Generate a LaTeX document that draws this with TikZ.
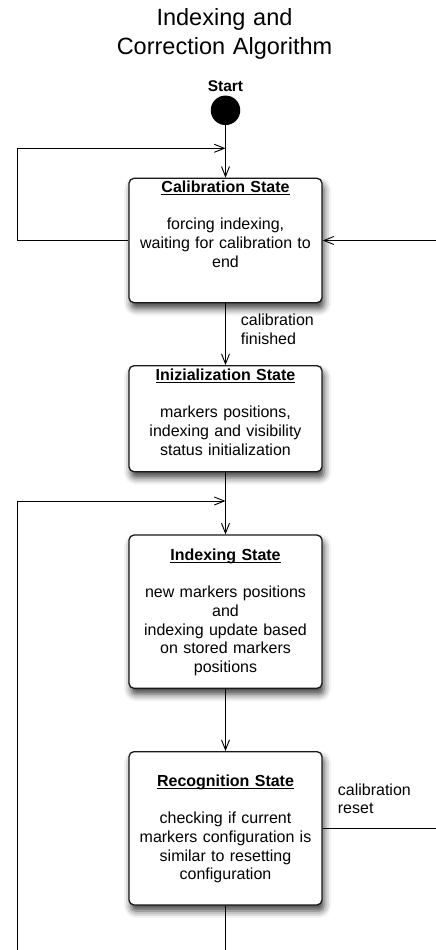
\documentclass[tikz,border=0pt]{standalone}
\usepackage{fontspec}
\setmainfont{Liberation Sans}
\usetikzlibrary{arrows.meta,shadows.blur}
\newcommand{\stateul}[1]{\leavevmode\setbox0\hbox{#1}\rlap{\copy0}\rule[-2.6pt]{\wd0}{0.9pt}}
\tikzset{
  box/.style={draw=black!90, line width=1.3pt, rounded corners=5pt, fill=white,
    minimum width=193pt, inner sep=0pt,
    blur shadow={shadow xshift=2pt, shadow yshift=-6pt, shadow blur radius=7pt, shadow opacity=75}},
  boxtext/.style={text width=192pt, align=center, inner sep=0pt, anchor=base,
    font=\fontsize{16}{18.7}\selectfont},
  lbl/.style={text width=90pt, align=left, inner sep=0pt, anchor=base west,
    font=\fontsize{16}{18.4}\selectfont},
  conn/.style={line width=0.9pt},
  arr/.style={conn, -{Straight Barb[length=10pt,width=8pt,line width=0.9pt]}}
}
\begin{document}
\begin{tikzpicture}[x=1pt,y=-1pt]
\useasboundingbox (0,0) rectangle (436,950);

\node[text width=300pt, align=center, inner sep=0pt, anchor=base,
  font=\fontsize{23.5}{29}\selectfont] (title) at (224.5,26) {Indexing and\\Correction Algorithm};

\node[anchor=base, inner sep=0pt, font=\fontsize{15.5}{18}\selectfont\bfseries] (startlbl) at (225.5,91.7) {Start};
\node[circle, fill=black, minimum size=29.5pt, inner sep=0pt] (start) at (225.5,110.3) {};

% boxes
\node[box, minimum height=124.4pt] (calib) at (225.5,240.5) {};
\node[box, minimum height=106pt] (init) at (225.5,418.7) {};
\node[box, minimum height=153.3pt] (idx) at (225.5,611.7) {};
\node[box, minimum height=153.3pt] (rec) at (225.5,828.3) {};

% box texts
\node[boxtext] (calibT) at (225.5,192.3) {\stateul{\textbf{Calibration State}}\\[18.9pt]
  forcing indexing,\\waiting for calibration to\\end};
\node[boxtext] (initT) at (225.5,380) {\stateul{\textbf{Inizialization State}}\\[18.9pt]
  markers positions,\\indexing and visibility\\status initialization};
\node[boxtext] (idxT) at (225.5,560) {\stateul{\textbf{Indexing State}}\\[18.9pt]
  new markers positions\\and\\indexing update based\\on stored markers\\positions};
\node[boxtext] (recT) at (225.5,786) {\stateul{\textbf{Recognition State}}\\[18.9pt]
  checking if current\\markers configuration is\\similar to resetting\\configuration};

% coordinates
\coordinate (j1) at (225.5,148.3);
\coordinate (c1) at (17,148.3);
\coordinate (c2) at (17,240.5);
\coordinate (rin) at (436,240.5);
\coordinate (j2) at (225.5,501);
\coordinate (c3) at (17,501);
\coordinate (lb) at (17,950);
\coordinate (rout) at (436,828.3);
\coordinate (bot) at (225.5,950);

% connectors
\draw[arr] (start) -- (calib);
\draw[arr] (calib.west) -- (c2) -- (c1) -- (j1);
\draw[arr] (rin) -- (calib.east);
\draw[arr] (calib) -- (init);
\draw[arr] (init) -- (idx);
\draw[arr] (lb) -- (c3) -- (j2);
\draw[arr] (idx) -- (rec);
\draw[conn] (rec.east) -- (rout);
\draw[conn] (rec.south) -- (bot);

% labels
\node[lbl] (lblF) at (240.7,325.7) {calibration\\finished};
\node[lbl] (lblR) at (337.7,795) {calibration\\reset};
\end{tikzpicture}
\end{document}
